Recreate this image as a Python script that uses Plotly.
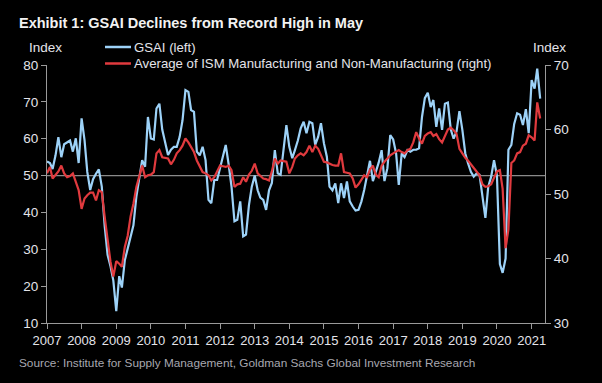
import pandas as pd
import plotly.graph_objects as go

# Monthly data, Jan 2007 - Apr 2021
start_month = "2007-01-01"

gsai_left = [
    # 2007
    53.8, 53.4, 51.8, 55.5, 60.4, 55.0, 58.5, 59.0, 59.5, 56.5, 60.1, 53.4,
    # 2008
    65.5, 59.6, 51.0, 46.1, 49.0, 50.5, 51.7, 47.0, 36.2, 28.5, 25.4, 21.5,
    # 2009
    13.2, 22.7, 19.6, 27.0, 30.0, 33.0, 36.5, 44.3, 49.7, 54.2, 52.4, 65.9,
    # 2010
    60.1, 59.8, 68.2, 69.5, 62.5, 59.0, 55.6, 57.0, 57.8, 57.8, 60.5, 65.0,
    # 2011
    73.2, 72.7, 67.8, 67.3, 56.5, 55.5, 57.8, 54.2, 43.4, 42.5, 48.8, 48.8,
    # 2012
    52.0, 55.0, 58.3, 53.0, 47.0, 37.6, 38.0, 43.0, 33.5, 34.0, 42.0, 47.0,
    # 2013
    50.0, 46.0, 44.0, 43.4, 40.7, 46.0, 48.0, 56.9, 50.6, 50.2, 57.0, 63.7,
    # 2014
    57.8, 54.7, 56.9, 59.5, 62.8, 64.6, 61.5, 64.6, 64.2, 58.3, 60.5, 64.2,
    # 2015
    58.8, 55.1, 47.0, 46.0, 47.9, 42.5, 47.9, 43.9, 48.4, 43.0, 41.6, 40.5,
    # 2016
    40.7, 43.0, 46.1, 49.7, 54.0, 48.5, 51.0, 53.5, 56.9, 48.5, 52.0, 61.0,
    # 2017
    59.8, 56.0, 47.5, 56.0, 55.0, 56.9, 56.5, 57.0, 57.0, 57.4, 65.9, 71.0,
    # 2018
    72.5, 68.6, 70.5, 63.2, 68.2, 62.4, 69.5, 69.8, 62.5, 60.0, 62.0, 67.5,
    # 2019
    62.4, 56.0, 53.4, 51.0, 49.7, 50.6, 50.2, 44.3, 38.5, 47.0, 49.7, 54.2,
    # 2020
    50.0, 26.0, 23.6, 27.5, 57.0, 58.3, 64.0, 66.9, 66.5, 63.7, 68.0, 61.5,
    # 2021
    75.9, 73.6, 79.0, 70.9,
]

ism_avg_right = [
    # 2007
    53.2, 54.2, 52.4, 53.0, 53.5, 54.4, 53.2, 52.6, 52.8, 53.2, 51.8, 50.6,
    # 2008
    47.7, 49.3, 49.8, 50.2, 50.2, 49.0, 50.6, 50.3, 46.4, 42.5, 39.5, 37.2,
    # 2009
    39.6, 39.2, 38.7, 41.8, 43.5, 46.5, 48.5, 51.1, 52.6, 54.4, 52.6, 52.9,
    # 2010
    53.0, 53.4, 56.3, 56.8, 55.7, 55.6, 55.5, 54.6, 55.3, 56.3, 56.8, 57.5,
    # 2011
    58.6, 58.0, 57.3, 56.5, 55.2, 54.4, 53.4, 53.2, 52.9, 52.1, 52.6, 53.5,
    # 2012
    54.4, 54.3, 54.2, 54.4, 53.7, 51.1, 51.5, 51.6, 52.6, 51.9, 53.0, 53.6,
    # 2013
    54.7, 53.2, 52.8, 52.4, 52.3, 52.1, 53.5, 55.5, 54.7, 55.2, 55.1, 55.0,
    # 2014
    53.2, 54.2, 55.5, 56.0, 56.3, 56.0, 56.5, 57.5, 56.5, 57.5, 57.0, 56.0,
    # 2015
    55.0, 54.9, 54.7, 54.5, 54.4, 54.4, 56.3, 53.4, 53.3, 53.2, 52.4, 51.0,
    # 2016
    51.5, 52.3, 52.9, 52.6, 53.8, 54.4, 53.0, 52.6, 54.4, 55.0, 55.5, 56.0,
    # 2017
    56.3, 56.5, 56.8, 56.5, 56.3, 56.8, 57.0, 58.0, 59.6, 58.6, 57.8, 59.0,
    # 2018
    59.4, 59.6, 59.0, 59.3, 58.5, 58.0, 59.1, 60.0, 60.3, 59.9, 59.3, 57.0,
    # 2019
    56.3, 55.6, 55.2, 54.6, 54.0, 53.5, 52.9, 51.5, 51.1, 51.2, 51.5, 52.5,
    # 2020
    53.5, 53.7, 50.8, 41.6, 44.5, 54.8, 55.2, 56.3, 56.5, 57.5, 57.8, 59.1,
    # 2021
    58.8, 58.3, 64.2, 61.7,
]

year_ticks = [str(y) for y in range(2007, 2022)]
left_ticks = [10, 20, 30, 40, 50, 60, 70, 80]
right_ticks = [30, 40, 50, 60, 70]

series_names = ["GSAI (left)",
                "Average of ISM Manufacturing and Non-Manufacturing (right)"]
series_colors = ["#9dd2f8", "#e03a3e"]

dates_gsai = pd.date_range(start_month, periods=len(gsai_left), freq="MS")
dates_ism = pd.date_range(start_month, periods=len(ism_avg_right), freq="MS")

FONT = "Liberation Sans Narrow, Arial Narrow, Liberation Sans, Arial, sans-serif"
TXT = "#e4e4ea"
AX = "#9a9a9a"

# Plot area in pixels
L, R, T, B = 47, 545, 65, 323
W, H = R - L, B - T


def px(x):
    return (x - L) / W


def py(y):
    return (B - y) / H


fig = go.Figure()
fig.add_trace(go.Scatter(
    x=dates_gsai, y=gsai_left, name=series_names[0], mode="lines",
    line=dict(color=series_colors[0], width=2.2), yaxis="y", showlegend=False))
fig.add_trace(go.Scatter(
    x=dates_ism, y=ism_avg_right, name=series_names[1], mode="lines",
    line=dict(color=series_colors[1], width=2.2), yaxis="y2", showlegend=False))

fig.add_shape(type="line", xref="paper", x0=0, x1=1, yref="y", y0=50, y1=50,
              line=dict(color="#8a8a8a", width=1.2), layer="below")

# Manual legend (line swatch + label)
legend_rows_y = [47, 63.5]
for name, color, ly in zip(series_names, series_colors, legend_rows_y):
    fig.add_shape(type="line", xref="paper", yref="paper",
                  x0=px(105), x1=px(131), y0=py(ly), y1=py(ly),
                  line=dict(color=color, width=2.5))
    fig.add_annotation(text=name, xref="paper", yref="paper",
                       x=px(132), y=py(ly), xanchor="left", yanchor="middle",
                       showarrow=False, font=dict(size=13.2, color=TXT))

fig.update_layout(
    width=602, height=383,
    margin=dict(l=L, r=602 - R, t=T, b=383 - B, pad=0, autoexpand=False),
    paper_bgcolor="#000000", plot_bgcolor="#000000",
    font=dict(family=FONT, size=13, color=TXT),
    showlegend=False,
    xaxis=dict(
        type="date",
        range=["2007-01-01", "2021-05-22"],
        tickvals=[f"{y}-01-01" for y in year_ticks],
        ticktext=year_ticks,
        showline=True, linecolor=AX, linewidth=1.2,
        ticks="outside", ticklen=5, tickcolor=AX, tickwidth=1.2,
        showgrid=False, zeroline=False,
        tickfont=dict(size=13, color=TXT),
    ),
    yaxis=dict(
        range=[10, 80], tickvals=left_ticks,
        showline=True, linecolor=AX, linewidth=1.2,
        ticks="outside", ticklen=5, tickcolor=AX, tickwidth=1.2,
        showgrid=False, zeroline=False,
        tickfont=dict(size=13.5, color=TXT),
    ),
    yaxis2=dict(
        range=[30, 70], tickvals=right_ticks, overlaying="y", side="right",
        showline=True, linecolor=AX, linewidth=1.2,
        ticks="outside", ticklen=5, tickcolor=AX, tickwidth=1.2,
        showgrid=False, zeroline=False,
        tickfont=dict(size=13.5, color=TXT),
    ),
)

fig.add_annotation(text="<b>Exhibit 1: GSAI Declines from Record High in May</b>",
                   xref="paper", yref="paper", x=px(17), y=py(23),
                   xanchor="left", yanchor="middle", showarrow=False,
                   font=dict(size=14.5, color="#f2f2f2", family=FONT))
fig.add_annotation(text="Index", xref="paper", yref="paper", x=px(45), y=py(47),
                   xanchor="center", yanchor="middle", showarrow=False,
                   font=dict(size=13.5, color=TXT))
fig.add_annotation(text="Index", xref="paper", yref="paper", x=px(549), y=py(47),
                   xanchor="center", yanchor="middle", showarrow=False,
                   font=dict(size=13.5, color=TXT))
fig.add_annotation(text="Source: Institute for Supply Management, Goldman Sachs Global Investment Research",
                   xref="paper", yref="paper", x=px(17), y=py(363),
                   xanchor="left", yanchor="middle", showarrow=False,
                   font=dict(size=11.8, color="#a8a8b0"))

fig.write_html("out.html",
               config={"displayModeBar": False},
               post_script="document.body.style.margin='0';"
                           "document.body.style.overflow='hidden';")
